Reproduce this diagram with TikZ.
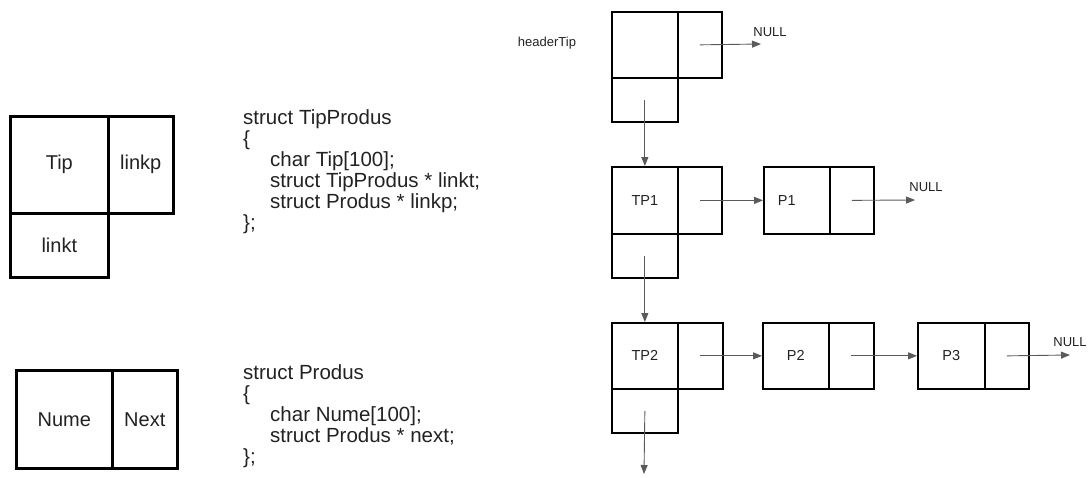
\documentclass[tikz,border=0pt]{standalone}
\usepackage{fontspec}
\setmainfont{Liberation Sans}
\usetikzlibrary{arrows.meta}
\definecolor{arrgray}{HTML}{5A5A5A}
\definecolor{txt}{HTML}{222222}
\tikzset{
  bigcell/.style={draw=black, line width=2.6pt, inner sep=0pt, anchor=north west,
    text=txt, font=\fontsize{20}{22}\selectfont},
  cell/.style={draw=black, line width=1.7pt, inner sep=0pt, anchor=north west,
    text=txt, font=\fontsize{14.5}{16}\selectfont},
  codeline/.style={anchor=base west, inner sep=0pt, text=txt, font=\fontsize{20.5}{22}\selectfont},
  small/.style={inner sep=0pt, text=txt, font=\fontsize{13}{15}\selectfont},
  arr/.style={draw=arrgray, line width=0.9pt, -{Triangle[length=9pt,width=7pt]}, arrgray},
}
\begin{document}
\begin{tikzpicture}[x=1pt,y=-1pt]
\useasboundingbox (0,0) rectangle (1091,477);

% ---- left: structure pictures
\node[bigcell, minimum width=98pt, minimum height=97pt] (tip) at (9,115) {Tip};
\node[bigcell, minimum width=65pt, minimum height=97pt] (linkp) at (107,115) {linkp};
\node[bigcell, minimum width=98pt, minimum height=64pt] (linkt) at (9,212) {linkt};

\node[bigcell, minimum width=96pt, minimum height=98pt] (nume) at (15,369) {Nume};
\node[bigcell, minimum width=65pt, minimum height=98pt] (next) at (111,369) {Next};

% ---- code
\node[codeline] (c1) at (243,124) {struct TipProdus};
\node[codeline] (c2) at (243,145) {\{};
\node[codeline] (c3) at (270,166) {char Tip[100];};
\node[codeline] (c4) at (270,187) {struct TipProdus * linkt;};
\node[codeline] (c5) at (270,208) {struct Produs * linkp;};
\node[codeline] (c6) at (243,229) {\};};

\node[codeline] (d1) at (243,379) {struct Produs};
\node[codeline] (d2) at (243,400) {\{};
\node[codeline] (d3) at (270,421) {char Nume[100];};
\node[codeline] (d4) at (270,442) {struct Produs * next;};
\node[codeline] (d5) at (243,463) {\};};

% ---- right: lists
\node[small] (htlabel) at (547,43) {headerTip};
\node[cell, minimum width=66pt, minimum height=66pt] (h) at (611,11) {};
\node[cell, minimum width=44pt, minimum height=66pt] (hr) at (677,11) {};
\node[cell, minimum width=66pt, minimum height=44pt] (hb) at (611,77) {};

\node[cell, minimum width=66pt, minimum height=67pt] (tp1) at (611,166) {TP1};
\node[cell, minimum width=44pt, minimum height=67pt] (tp1r) at (677,166) {};
\node[cell, minimum width=66pt, minimum height=44pt] (tp1b) at (611,233) {};

\node[cell, minimum width=66pt, minimum height=67pt,
  label={[cell, draw=none, anchor=center, xshift=-10pt]center:P1}] (p1) at (763,166) {};
\node[cell, minimum width=44pt, minimum height=67pt] (p1r) at (829,166) {};

\node[cell, minimum width=66pt, minimum height=66pt] (tp2) at (611,322) {TP2};
\node[cell, minimum width=45pt, minimum height=66pt] (tp2r) at (677,322) {};
\node[cell, minimum width=66pt, minimum height=44pt] (tp2b) at (611,388) {};

\node[cell, minimum width=66pt, minimum height=66pt] (p2) at (762,322) {P2};
\node[cell, minimum width=45pt, minimum height=66pt] (p2r) at (828,322) {};

\node[cell, minimum width=67pt, minimum height=66pt] (p3) at (917,322) {P3};
\node[cell, minimum width=44pt, minimum height=66pt] (p3r) at (984,322) {};

% NULL ends
\coordinate (n0) at (761,44);
\coordinate (n1) at (915,200);
\coordinate (n2) at (1070,355);
\coordinate (down) at (644,474);
\node[small] (null0) at (770,32) {NULL};
\node[small] (null1) at (926,187) {NULL};
\node[small] (null2) at (1070,342) {NULL};

% arrows
\draw[arr] (hr.center) -- (n0);
\draw[arr] (hb.center) -- (hb.center |- tp1.north);
\draw[arr] (tp1r.center) -- (p1.west);
\draw[arr] (p1r.center) -- (n1);
\draw[arr] (tp1b.center) -- (tp1b.center |- tp2.north);
\draw[arr] (tp2r.center) -- (p2.west);
\draw[arr] (p2r.center) -- (p3.west);
\draw[arr] (p3r.center) -- (n2);
\draw[arr] (tp2b.center) -- (down);
\end{tikzpicture}
\end{document}
